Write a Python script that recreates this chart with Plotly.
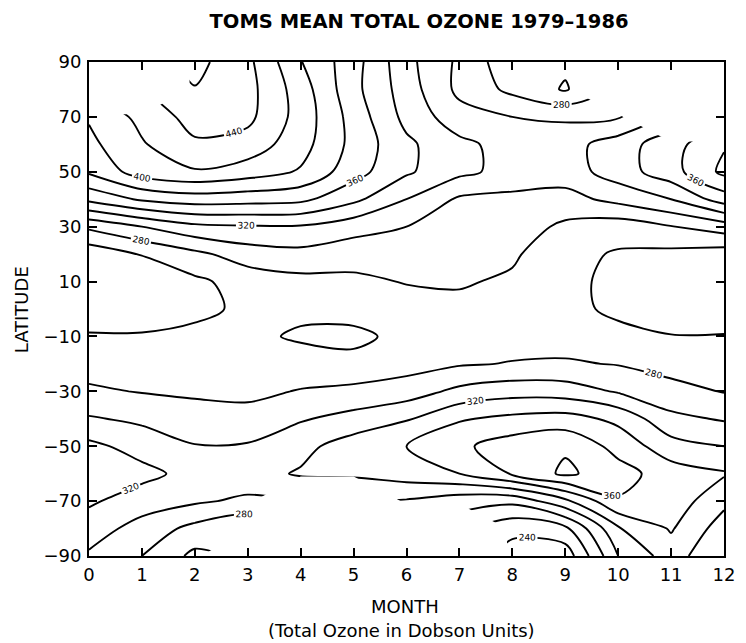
import plotly.graph_objects as go

# Grid: months (0 = Jan ... 12 = Jan again), latitude bands
months = list(range(13))
latitudes = list(range(-90, 91, 10))   # -90 ... 90

# Mean total ozone (Dobson units), one list per month,
# ordered by latitude -90 ... 90. None = no data (polar night).
m00 = [297, 310, 323, 335, 325, 302, 283, 272, 262, 248, 246, 247, 284, 345, 383, 395, 402, None, None]
m01 = [280, 292, 310, 326, 312, 296, 279, 271, 262, 248, 248, 261, 300, 363, 410, 418, 426, None, None]
m02 = [255, 274, 303, 313, 301, 288, 277, 273, 265, 255, 256, 275, 315, 370, 418, 437, 448, 459, 466]
m03 = [None, 262, 296, 313, 302, 286, 276, 272, 265, 264, 268, 290, 318, 368, 410, 432, 445, 447, 445]
m04 = [None, None, None, 322, 314, 298, 281, 270, 257, 265, 274, 294, 318, 365, 398, 408, 412, 410, 401]
m05 = [None, None, None, 323, 330, 307, 285, 266, 255, 268, 276, 288, 308, 345, 368, 374, 372, 366, 368]
m06 = [None, None, 298, 330, 340, 318, 290, 272, 266, 272, 281, 290, 300, 320, 343, 344, 334, 330, 326]
m07 = [None, None, 288, 340, 356, 338, 305, 278, 270, 275, 282, 285, 290, 297, 325, 325, 308, 295, 296]
m08 = [232, 245, 285, 362, 370, 345, 312, 281, 272, 272, 277, 283, 290, 295, 313, 312, 300, 275, 266]
m09 = [228, 255, 315, 384, 377, 348, 310, 282, 272, 268, 267, 266, 276, 293, 310, 312, 297, 258, 264]
m10 = [300, 318, 358, 368, 353, 335, 298, 279, 268, 254, 253, 258, 269, 306, 330, 330, 298, None, None]
m11 = [330, 342, 352, 350, 328, 305, 287, 272, 261, 248, 248, 255, 279, 320, 352, 352, None, None, None]
m12 = [300, 310, 325, 342, 320, 298, 279, 271, 261, 250, 250, 250, 290, 350, 385, 378, None, None, None]

columns = [m00, m01, m02, m03, m04, m05, m06, m07, m08, m09, m10, m11, m12]

x_tick_vals = list(range(13))
y_tick_vals = list(range(-90, 91, 20))

# z[lat][month]
z = [[col[i] for col in columns] for i in range(len(latitudes))]
# cells with no data get masked in white
no_data = [[1 if v is None else None for v in row] for row in z]

FONT = "DejaVu Sans"
line_style = dict(color="black", width=1.9, smoothing=0.9)

fig = go.Figure()
# unlabeled contours: 260, 300, ..., 460
fig.add_trace(go.Contour(
    x=months, y=latitudes, z=z,
    autocontour=False,
    contours=dict(coloring="none", start=260, end=460, size=40, showlabels=False),
    line=line_style, showscale=False, hoverinfo="skip",
))
# labeled contours: 240, 280, ..., 440
fig.add_trace(go.Contour(
    x=months, y=latitudes, z=z,
    autocontour=False,
    contours=dict(coloring="none", start=240, end=440, size=40, showlabels=True,
                  labelfont=dict(family=FONT, size=9, color="black")),
    line=line_style, showscale=False, hoverinfo="skip",
))
# polar-night mask
fig.add_trace(go.Heatmap(
    x=months, y=latitudes, z=no_data,
    colorscale=[[0, "white"], [1, "white"]], zmin=0, zmax=1,
    showscale=False, hoverinfo="skip",
))

axis_common = dict(
    showline=True, linecolor="black", linewidth=2, mirror="ticks",
    ticks="inside", ticklen=8, tickwidth=1.5, tickcolor="black",
    showgrid=False, zeroline=False, ticklabeloverflow="allow",
    tickfont=dict(family=FONT, size=18, color="black"),
)

fig.update_layout(
    width=738, height=635,
    margin=dict(l=81, r=11, t=54, b=87),
    paper_bgcolor="white", plot_bgcolor="white",
    showlegend=False,
    title=dict(text="TOMS MEAN TOTAL OZONE 1979–1986",
               font=dict(family=FONT, size=19.5, color="black", weight="bold"),
               x=0.557, xanchor="center", y=0.980, yanchor="middle"),
    xaxis=dict(range=[0, 12], tickvals=x_tick_vals, ticklabelstandoff=1, **axis_common),
    yaxis=dict(range=[-90, 90], tickvals=y_tick_vals, ticklabelstandoff=2, **axis_common),
    annotations=[
        dict(text="MONTH", xref="paper", yref="paper", x=0.497, y=-0.103,
             xanchor="center", yanchor="middle", showarrow=False,
             font=dict(family=FONT, size=18, color="black")),
        dict(text="(Total Ozone in Dobson Units)", xref="paper", yref="paper",
             x=0.492, y=-0.1498, xanchor="center", yanchor="middle", showarrow=False,
             font=dict(family=FONT, size=18, color="black")),
        dict(text="LATITUDE", xref="paper", yref="paper", x=-0.105, y=0.498,
             xanchor="center", yanchor="middle", textangle=-90, showarrow=False,
             font=dict(family=FONT, size=18, color="black")),
    ],
)

fig.write_html("out.html")
